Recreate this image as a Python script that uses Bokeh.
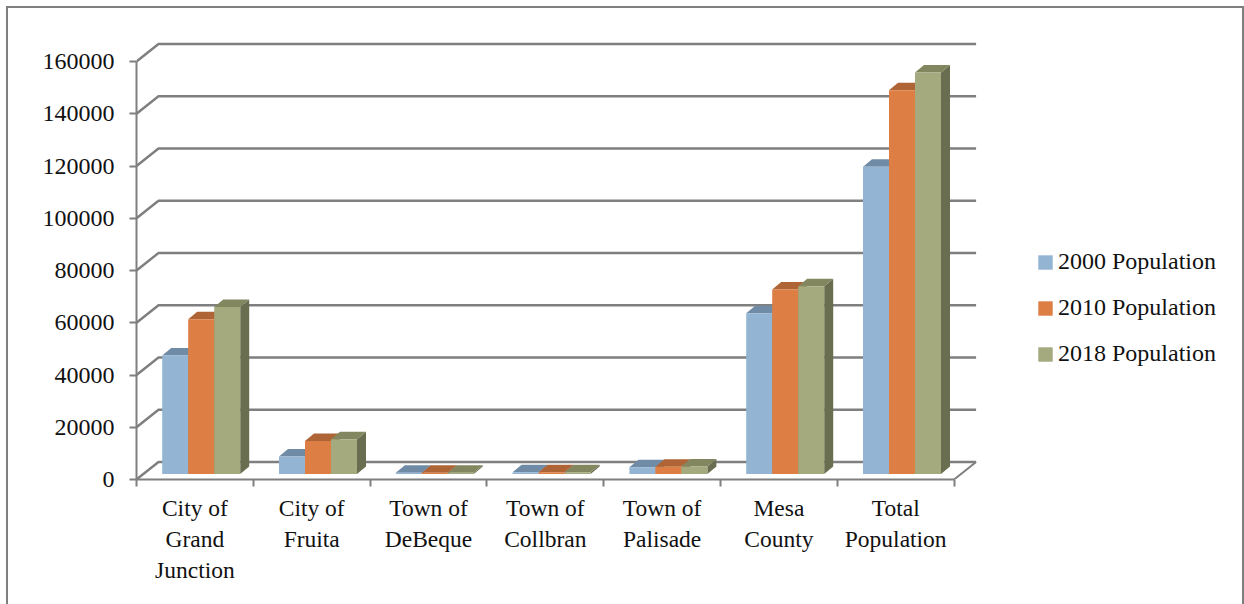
from bokeh.embed import file_html
from bokeh.resources import INLINE
from bokeh.plotting import figure
from bokeh.models import ColumnDataSource, FixedTicker, Range1d, Legend, LegendItem

categories = ["City of\nGrand\nJunction", "City of\nFruita", "Town of\nDeBeque", "Town of\nCollbran",
              "Town of\nPalisade", "Mesa\nCounty", "Total\nPopulation"]
pop_2000 = [45400, 6700, 500, 700, 2600, 61500, 117600]
pop_2010 = [59200, 12600, 500, 700, 2800, 70600, 146900]
pop_2018 = [63900, 13300, 500, 700, 2900, 71900, 153700]
series_names = ["2000 Population", "2010 Population", "2018 Population"]
y_ticks = list(range(0, 160001, 20000))

front_colors = ["#94B4D3", "#DD7F45", "#A4AA7E"]
top_colors = ["#708BA6", "#AE6435", "#82875F"]
side_colors = ["#5F7A94", "#96552C", "#6A6E50"]
GRID = "#7F7F7F"
FONT = "Liberation Serif"
FS = "24px"
TXT = "#111111"

PX_X = 116.8            # pixels per category
PX_Y = 418 / 160000     # pixels per person
W, H = 1234, 596        # placed at the page's 8px margin
FRAME_L, FRAME_R, FRAME_T, FRAME_B = 128, 1234, 0, 471

wall_dx, wall_dy = 22 / PX_X, 17.5 / PX_Y
bar_dx, bar_dy = 9 / PX_X, 7.5 / PX_Y
bar_w = 26 / PX_X
bar_start = 25.7 / PX_X
bar_base = 5.5 / PX_Y

p = figure(width=W, height=H, output_backend="svg", toolbar_location=None,
           x_range=Range1d(0, (FRAME_R - FRAME_L) / PX_X),
           y_range=Range1d(0, (FRAME_B - FRAME_T) / PX_Y),
           min_border_left=FRAME_L, min_border_right=W - FRAME_R,
           min_border_top=FRAME_T, min_border_bottom=H - FRAME_B)
p.styles = {"position": "absolute", "left": "8px", "top": "8px", "outline": "2px solid " + GRID}
p.grid.visible = False
p.outline_line_color = None

n = len(categories)

# axes
xa, ya = p.xaxis[0], p.yaxis[0]
xa.ticker = FixedTicker(ticks=[i + 0.5 for i in range(n)], minor_ticks=list(range(n + 1)))
xa.bounds = (0, n)
xa.major_label_overrides = {i + 0.5: c for i, c in enumerate(categories)}
xa.major_label_text_font = FONT
xa.major_label_text_font_size = "23.5px"
xa.major_label_text_color = TXT
xa.major_label_text_line_height = 1.2
xa.major_label_standoff = 8
xa.major_tick_line_color = None
xa.minor_tick_line_color = GRID
xa.minor_tick_line_width = 2
xa.minor_tick_out = 7
xa.minor_tick_in = 0
ya.ticker = FixedTicker(ticks=y_ticks)
ya.bounds = (0, y_ticks[-1])
ya.major_label_overrides = {t: str(t) for t in y_ticks}
ya.major_tick_line_color = GRID
ya.major_tick_line_width = 2
ya.major_tick_out = 7
ya.major_tick_in = 0
ya.minor_tick_line_color = None
ya.major_label_text_font = FONT
ya.major_label_text_font_size = FS
ya.major_label_text_color = TXT
ya.major_label_standoff = 15
for ax in (xa, ya):
    ax.axis_line_color = GRID
    ax.axis_line_width = 2

# back wall and side wall lines
wall = ColumnDataSource(dict(
    xs=[[0, wall_dx, n + wall_dx] for _ in y_ticks],
    ys=[[t, t + wall_dy, t + wall_dy] for t in y_ticks]))
p.multi_line("xs", "ys", source=wall, line_color=GRID, line_width=2.4)
p.line([n, n + wall_dx], [0, wall_dy], line_color=GRID, line_width=2)

# bars
items = []
for s, vals in enumerate([pop_2000, pop_2010, pop_2018]):
    lefts = [i + bar_start + s * bar_w for i in range(n)]
    rights = [l + bar_w for l in lefts]
    tops = [bar_base + v for v in vals]
    src = ColumnDataSource(dict(left=lefts, right=rights, top=tops, bottom=[bar_base] * n))
    p.patches([[r, r + bar_dx, r + bar_dx, r] for r in rights],
              [[bar_base, bar_base + bar_dy, t + bar_dy, t] for t in tops],
              fill_color=side_colors[s], line_color=None)
    p.patches([[l, l + bar_dx, r + bar_dx, r] for l, r in zip(lefts, rights)],
              [[t, t + bar_dy, t + bar_dy, t] for t in tops],
              fill_color=top_colors[s], line_color=None)
    q = p.quad(left="left", right="right", top="top", bottom="bottom", source=src,
               fill_color=front_colors[s], line_color=None)
    items.append(LegendItem(label=series_names[s], renderers=[q]))

legend = Legend(items=items, location=(1028 - FRAME_L, FRAME_B - 359), orientation="vertical",
                glyph_width=18, glyph_height=18, label_height=14, label_standoff=4, spacing=19,
                padding=0, margin=0, border_line_color=None, background_fill_alpha=0,
                label_text_font=FONT, label_text_font_size=FS, label_text_color=TXT)
p.add_layout(legend)

open("out.html", "w").write(file_html(p, INLINE))
